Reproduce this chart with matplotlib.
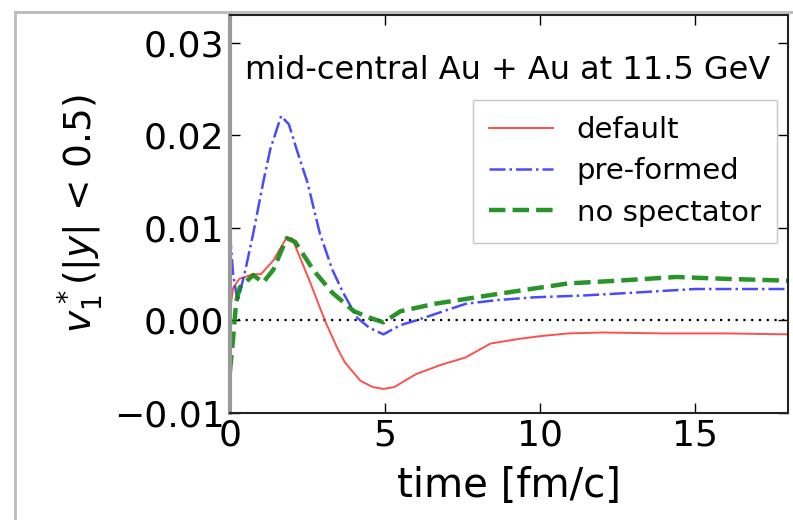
import numpy as np
import matplotlib
matplotlib.use("Agg")
import matplotlib.pyplot as plt
from matplotlib.lines import Line2D

# ---- data ----
t_default = [0.0, 0.1, 0.3, 0.75, 1.0, 1.4, 1.8, 2.0, 2.26, 2.6, 2.9, 3.1, 3.45, 3.7, 4.2, 4.6, 4.95, 5.3, 6.0, 6.8, 7.6, 8.4, 9.3, 10.0, 10.9, 12.0, 14.0, 16.0, 18.0]
v_default = [0.001, 0.0035, 0.0045, 0.005, 0.005, 0.0065, 0.0088, 0.0089, 0.0068, 0.004, 0.0014, -0.0003, -0.0029, -0.0045, -0.0065, -0.0072, -0.0074, -0.0072, -0.0058, -0.0048, -0.004, -0.0025, -0.002, -0.0017, -0.0014, -0.0013, -0.0014, -0.0014, -0.0015]

t_preformed = [0.0, 0.1, 0.25, 0.5, 0.75, 1.07, 1.3, 1.65, 1.9, 2.15, 2.5, 2.9, 3.3, 3.65, 4.1, 4.5, 4.95, 5.5, 6.0, 7.6, 8.6, 9.8, 11.4, 13.0, 15.0, 16.5, 18.0]
v_preformed = [0.0095, 0.005, 0.002, 0.0055, 0.0094, 0.0149, 0.0185, 0.0221, 0.0212, 0.0185, 0.0149, 0.0094, 0.0055, 0.003, 0.0003, -0.0008, -0.0015, -0.0005, 0.0, 0.0018, 0.0022, 0.0025, 0.0027, 0.003, 0.0034, 0.0034, 0.0034]

t_nospec = [0.0, 0.1, 0.2, 0.32, 0.75, 1.07, 1.4, 1.83, 2.1, 2.7, 3.3, 4.0, 4.5, 4.95, 5.5, 6.6, 8.7, 10.9, 12.5, 14.4, 16.0, 18.0]
v_nospec = [-0.0055, -0.002, 0.002, 0.0036, 0.0049, 0.0041, 0.0055, 0.0089, 0.0085, 0.0054, 0.003, 0.001, 0.0003, -0.0002, 0.001, 0.0018, 0.0029, 0.004, 0.0043, 0.0047, 0.0045, 0.0043]

labels = ["default", "pre-formed", "no spectator"]
x_ticks = [0, 5, 10, 15]
y_ticks = [-0.01, 0.0, 0.01, 0.02, 0.03]
y_ticklabels = ["\u22120.01", "0.00", "0.01", "0.02", "0.03"]

fig = plt.figure(figsize=(7.93, 5.2), dpi=100)
ax = fig.add_axes([0.290, 0.2058, 0.7037, 0.765])

ax.axhline(0.0, color="black", linestyle=(0, (1, 2.5)), linewidth=1.6, zorder=1)
ax.plot(t_default, v_default, color="#ff3030", linestyle="-", linewidth=1.4, label=labels[0], alpha=0.85)
ax.plot(t_preformed, v_preformed, color="#2a2aff", linestyle="-.", linewidth=1.8, label=labels[1], alpha=0.85)
ax.plot(t_nospec, v_nospec, color="#118811", linestyle="--", linewidth=3.2, label=labels[2], alpha=0.9)

ax.set_xlim(0, 18)
ax.set_ylim(-0.01, 0.033)
ax.set_xticks(x_ticks)
ax.set_yticks(y_ticks)
ax.set_yticklabels(y_ticklabels)
ax.tick_params(direction="in", top=True, right=True, length=7, width=1, labelsize=26, pad=4)

for s in ["bottom", "right", "top"]:
    ax.spines[s].set_color("#222222")
    ax.spines[s].set_linewidth(1.5)
ax.spines["left"].set_color("#999999")
ax.spines["left"].set_linewidth(3)

ax.set_xlabel("time [fm/c]", fontsize=29, labelpad=10)
ax.set_ylabel(r"$v_1^*$(|$y$| < 0.5)", fontsize=27, labelpad=6)

ax.text(0.027, 0.862, "mid-central Au + Au at 11.5 GeV", transform=ax.transAxes,
        fontsize=23, ha="left", va="center")

leg = ax.legend(loc="upper right", bbox_to_anchor=(0.98, 0.786), fontsize=21,
                frameon=True, fancybox=False, edgecolor="#bbbbbb", borderpad=0.55,
                handlelength=2.2, labelspacing=0.45, borderaxespad=0)

# outer frame of the cropped figure
fig.add_artist(Line2D([15/793, 15/793], [0, 1 - 12/520], transform=fig.transFigure, color="#bbbbbb", linewidth=2))
fig.add_artist(Line2D([15/793, 1], [1 - 12/520, 1 - 12/520], transform=fig.transFigure, color="#bbbbbb", linewidth=2))

fig.savefig("out.png", dpi=100)
